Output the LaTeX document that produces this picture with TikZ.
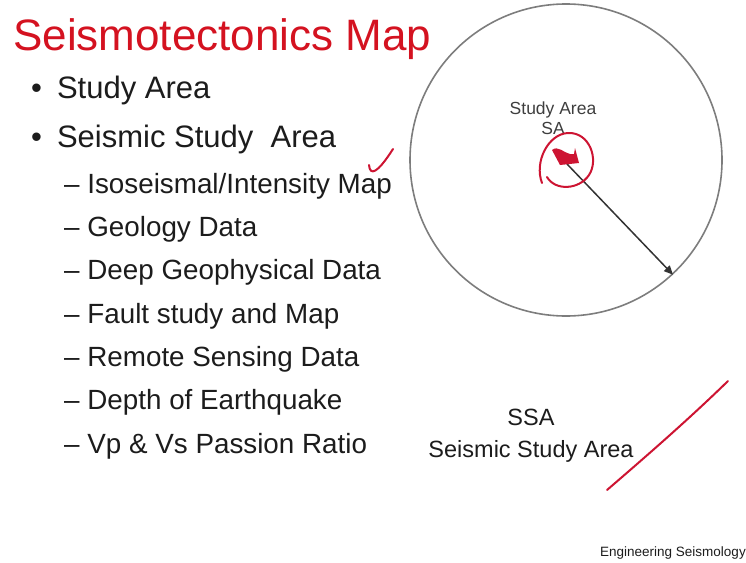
\documentclass[tikz,border=0pt]{standalone}
\usepackage{fontspec}
\setmainfont{Liberation Sans}
\usepackage{tikz}
\usetikzlibrary{arrows.meta,positioning}

\definecolor{titlered}{RGB}{212,18,32}
\definecolor{penred}{RGB}{205,20,50}
\definecolor{textgray}{RGB}{28,28,28}
\definecolor{rimgray}{RGB}{125,125,125}

\begin{document}
\begin{tikzpicture}[
    x=1pt, y=-1pt,
    title/.style={anchor=base west, inner sep=0pt, text=titlered, font=\fontsize{44}{44}\selectfont},
    item/.style={anchor=base west, inner sep=0pt, text=textgray, font=\fontsize{31}{31}\selectfont},
    subitem/.style={anchor=base west, inner sep=0pt, text=textgray, font=\fontsize{27.8}{27.8}\selectfont},
    maplabel/.style={align=center, inner sep=0pt, text=textgray!85, font=\fontsize{17.5}{20}\selectfont},
    arealabel/.style={align=center, inner sep=0pt, text=textgray, font=\fontsize{23.5}{32}\selectfont},
    pen/.style={penred, line width=2pt, line cap=round, line join=round},
    arrow/.style={-{Triangle[length=9pt,width=8pt]}, line width=1.5pt, draw=black!80}
]
\useasboundingbox (0,0) rectangle (746,562);

\node[title] (head) at (13,50) {Seismotectonics Map};

\node[item] (sa item) at (31,98) {\textbullet\hspace{15pt}Study Area};
\node[item] (ssa item) at (31,147) {\textbullet\hspace{15pt}Seismic Study\ \ Area};

\node[subitem] (iso) at (64,193) {--\ Isoseismal/Intensity Map};
\node[subitem] (geo) at (64,236) {--\ Geology Data};
\node[subitem] (deep) at (64,279) {--\ Deep Geophysical Data};
\node[subitem] (fault) at (64,323) {--\ Fault study and Map};
\node[subitem] (remote) at (64,366) {--\ Remote Sensing Data};
\node[subitem] (depth) at (64,409) {--\ Depth of Earthquake};
\node[subitem] (ratio) at (64,453) {--\ Vp \& Vs Passion Ratio};

% study area map
\node[circle, draw=rimgray, line width=1.6pt, minimum size=312pt, inner sep=0pt] (ssa) at (566,160) {};
\node[maplabel] (sa label) at (553,118) {Study Area\\SA};
\coordinate (sa) at (567,164);
\draw[arrow] (sa) -- (ssa.-47.4);

% red flag and pen marks
\fill[penred] (552,150) .. controls (558,145) and (564,153) .. (570,154)
    -- (574,154) -- (575,148) -- (579,163) -- (560,165) -- cycle;
\draw[pen] (542,183) .. controls (534,162) and (548,134) .. (568,133)
    .. controls (590,132) and (599,160) .. (589,175)
    .. controls (579,190) and (555,191) .. (547,177);
\draw[pen] (369,165) .. controls (370,176) and (377,174) .. (393,149);
\draw[pen] (607,490) .. controls (650,453) and (690,418) .. (728,381);

\node[arealabel] (ssa label) at (531,436) {SSA\\Seismic Study Area};

\node[anchor=base west, inner sep=0pt, text=textgray, font=\fontsize{13.5}{14}\selectfont] (footer) at (600,556) {Engineering Seismology};
\end{tikzpicture}
\end{document}
